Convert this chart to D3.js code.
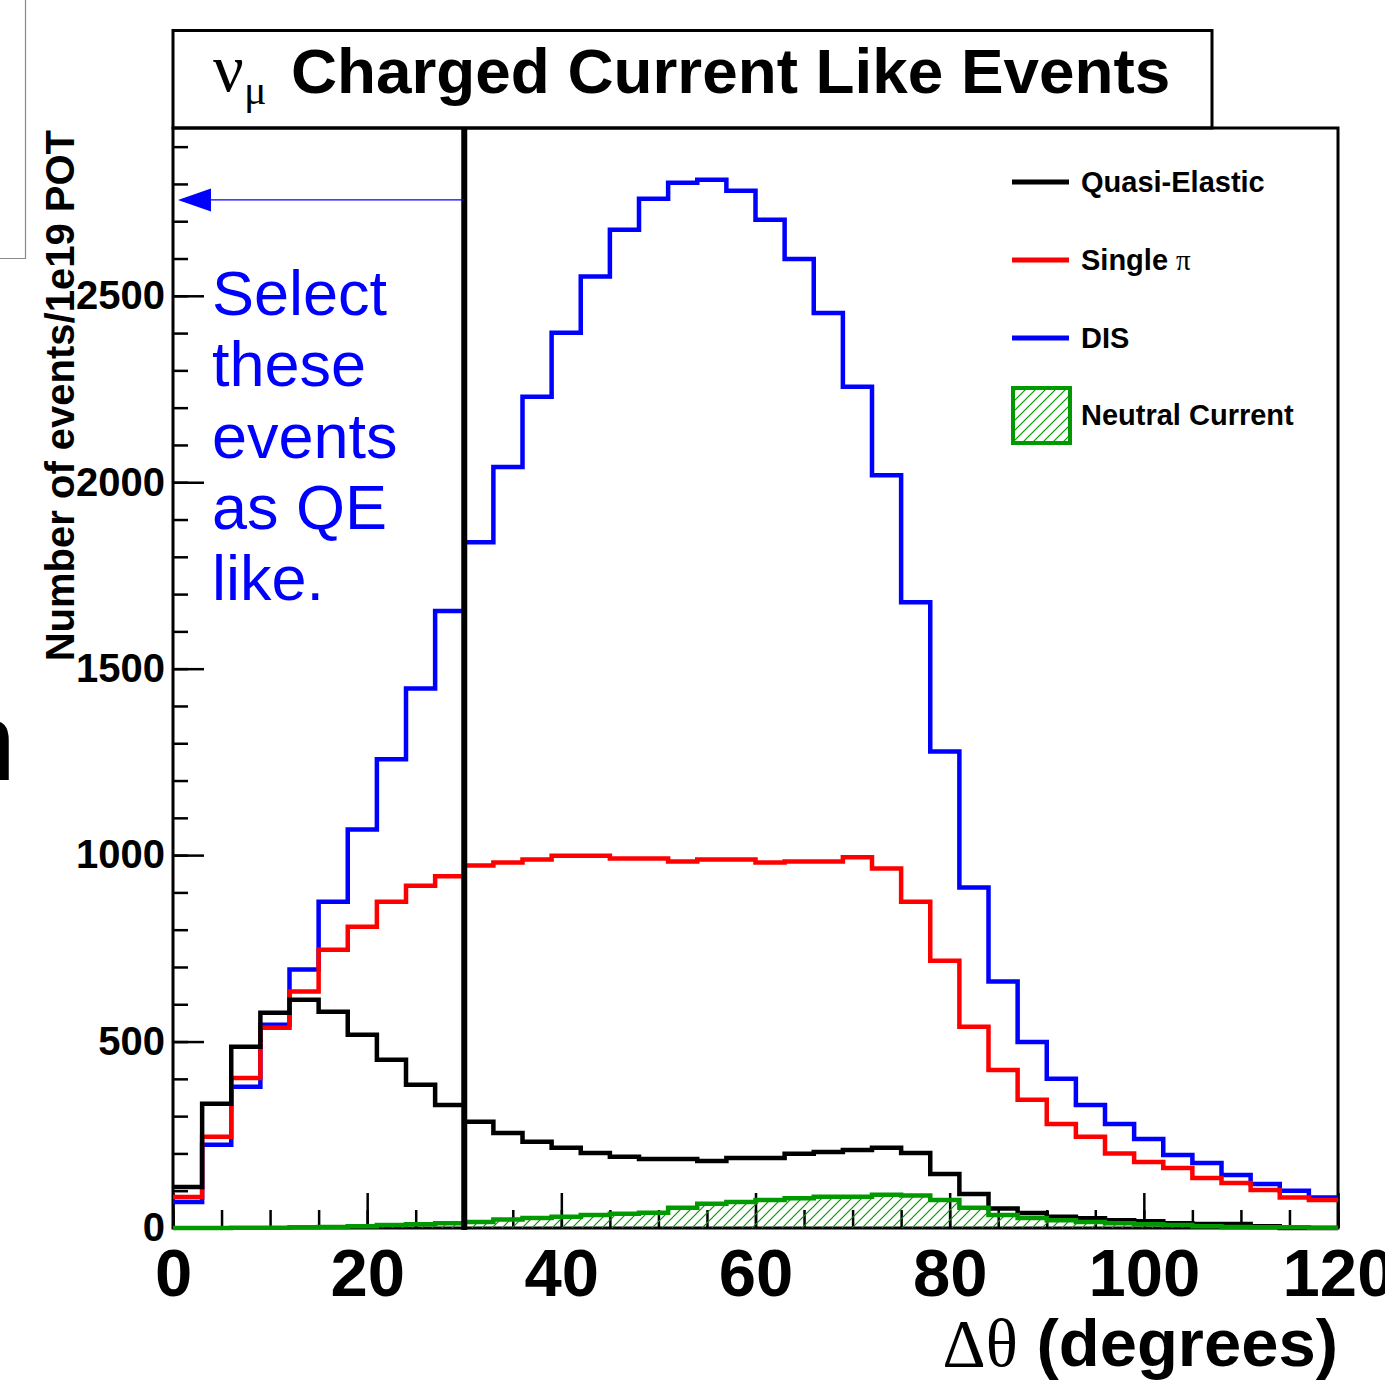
<!DOCTYPE html>
<html>
<head>
<meta charset="utf-8">
<script src="https://cdn.jsdelivr.net/npm/d3@7"></script>
<style>
  body { margin: 0; background: #fff; }
  svg { display: block; }
</style>
</head>
<body>
<svg id="chart" width="1385" height="1388"></svg>
<script>
// bin low edges (degrees), 3 degree bins
const binLow = [0, 3, 6, 9, 12, 15, 18, 21, 24, 27, 30, 33, 36, 39, 42, 45, 48, 51, 54, 57,
                60, 63, 66, 69, 72, 75, 78, 81, 84, 87, 90, 93, 96, 99, 102, 105, 108, 111, 114, 117]

const quasiElastic = [110, 333, 486, 577, 612, 580, 518, 451, 384, 330, 285, 255, 231, 215, 201, 191, 185, 185, 180, 188,
                      188, 199, 204, 209, 215, 201, 145, 91, 52, 40, 30, 26, 21, 18, 13, 11, 11, 5, 0, 0]
const singlePi = [83, 245, 402, 537, 634, 746, 808, 875, 918, 943, 972, 980, 988, 998, 998, 991, 991, 983, 988, 988,
                  980, 983, 983, 994, 964, 875, 717, 540, 424, 344, 279, 245, 200, 177, 161, 134, 121, 102, 82, 75]
const dis = [70, 223, 379, 545, 693, 875, 1069, 1257, 1447, 1655, 1839, 2041, 2229, 2401, 2552, 2677, 2760, 2803, 2811, 2782,
             2704, 2599, 2454, 2256, 2019, 1678, 1278, 913, 661, 499, 400, 330, 279, 239, 196, 174, 142, 118, 100, 82]
const neutralCurrent = [0, 0, 1, 1, 2, 3, 5, 8, 10, 13, 16, 23, 27, 30, 35, 38, 41, 54, 65, 70,
                        75, 80, 84, 84, 89, 87, 75, 54, 35, 27, 21, 16, 13, 10, 8, 5, 3, 2, 2, 1]

const xMajorTicks = [0, 20, 40, 60, 80, 100, 120]
const yMajorTicks = [0, 500, 1000, 1500, 2000, 2500]
const cutAngle = 30
const arrowLevel = 2757
const noteLines = ['Select', 'these', 'events', 'as QE', 'like.']

const legendItems = [
  { label: 'Quasi-Elastic', color: '#000000' },
  { label: 'Single ', greek: 'π', color: '#ff0000' },
  { label: 'DIS', color: '#0000ff' },
  { label: 'Neutral Current', color: '#009a00', hatched: true }
]

const sans = '"Liberation Sans", Arial, Helvetica, sans-serif'
const serif = '"Liberation Serif", "Times New Roman", serif'
const green = '#009a00'

const svg = d3.select('#chart')

const x = d3.scaleLinear().domain([0, 120]).range([173, 1338])
const y = d3.scaleLinear().domain([0, 2950]).range([1228, 128])

// hatch pattern for neutral current
const defs = svg.append('defs')
const pat = defs.append('pattern')
  .attr('id', 'hatch')
  .attr('patternUnits', 'userSpaceOnUse')
  .attr('width', 10).attr('height', 10)
pat.append('path')
  .attr('d', 'M-2,12 L12,-2 M-2,2 L2,-2 M8,12 L12,8')
  .attr('fill', 'none')
  .attr('stroke', green).attr('stroke-width', 1.2)

// stray slide bits
svg.append('path')
  .attr('d', 'M0,258.5 H25.5 V0')
  .attr('fill', 'none').attr('stroke', '#8a8a8a').attr('stroke-width', 1.2)
svg.append('text')
  .attr('x', 16).attr('y', 780)
  .attr('text-anchor', 'end')
  .style('font-family', sans).style('font-size', '112px')
  .text('n')

// title box
svg.append('rect')
  .attr('x', 173).attr('y', 30.5).attr('width', 1039).attr('height', 97.5)
  .attr('fill', '#fff').attr('stroke', '#000').attr('stroke-width', 3)
svg.append('text')
  .attr('x', 213).attr('y', 91)
  .style('font-family', serif).style('font-size', '68px')
  .text('ν')
svg.append('text')
  .attr('x', 244).attr('y', 104)
  .style('font-family', serif).style('font-size', '42px')
  .text('μ')
svg.append('text')
  .attr('x', 291).attr('y', 93)
  .style('font-family', sans).style('font-size', '63.8px').style('font-weight', 'bold')
  .text('Charged Current Like Events')

// axes, ticks pointing into the frame
const yAxis = svg.append('g')
  .attr('transform', 'translate(173,0)')
  .call(d3.axisLeft(y).tickValues(yMajorTicks).tickFormat(d3.format('d')).tickSize(-31).tickPadding(8))
yAxis.append('g')
  .call(d3.axisLeft(y).tickValues(d3.range(0, 2950, 100)).tickSize(-15).tickFormat(''))

const xAxis = svg.append('g')
  .attr('transform', 'translate(0,1228)')
  .call(d3.axisBottom(x).tickValues(xMajorTicks).tickFormat(d3.format('d')).tickSize(-35).tickPadding(20))
xAxis.append('g')
  .call(d3.axisBottom(x).tickValues(d3.range(0, 121, 5)).tickSize(-18).tickFormat(''))

svg.selectAll('.domain').remove()
svg.selectAll('.tick line').attr('stroke', '#000').attr('stroke-width', 2.5)
yAxis.selectAll('text')
  .style('font-family', sans).style('font-size', '40px').style('font-weight', 'bold')
  .attr('fill', '#000')
xAxis.selectAll('text')
  .style('font-family', sans).style('font-size', '67px').style('font-weight', 'bold')
  .attr('fill', '#000')

// frame
svg.append('rect')
  .attr('x', 173).attr('y', 128).attr('width', 1165).attr('height', 1100)
  .attr('fill', 'none').attr('stroke', '#000').attr('stroke-width', 3)

// histograms
const steps = vals => binLow.map((b, i) => [b, vals[i]]).concat([[120, vals[vals.length - 1]]])

const line = d3.line()
  .x(d => x(d[0])).y(d => y(d[1]))
  .curve(d3.curveStepAfter)

const area = d3.area()
  .x(d => x(d[0])).y0(y(0)).y1(d => y(d[1]))
  .curve(d3.curveStepAfter)

const plot = svg.append('g')

plot.append('path')
  .datum(steps(neutralCurrent))
  .attr('d', area)
  .attr('fill', 'url(#hatch)')

const series = [
  { vals: dis, color: '#0000ff' },
  { vals: singlePi, color: '#ff0000' },
  { vals: quasiElastic, color: '#000000' },
  { vals: neutralCurrent, color: green }
]

plot.selectAll('.hist')
  .data(series)
  .enter().append('path')
  .attr('class', 'hist')
  .attr('d', d => line(steps(d.vals)))
  .attr('fill', 'none')
  .attr('stroke', d => d.color)
  .attr('stroke-width', 4.5)

// axis titles
svg.append('text')
  .attr('transform', 'translate(74,130) rotate(-90)')
  .attr('text-anchor', 'end')
  .style('font-family', sans).style('font-size', '40px').style('font-weight', 'bold')
  .text('Number of events/1e19 POT')

const xTitle = svg.append('text')
  .attr('x', 1338).attr('y', 1366)
  .attr('text-anchor', 'end')
  .style('font-family', sans).style('font-size', '67px').style('font-weight', 'bold')
xTitle.append('tspan').style('font-family', serif).style('font-weight', 'normal').text('Δθ')
xTitle.append('tspan').text(' (degrees)')

// cut line
svg.append('line')
  .attr('x1', x(cutAngle)).attr('x2', x(cutAngle))
  .attr('y1', y(2950)).attr('y2', y(0) + 2)
  .attr('stroke', '#000').attr('stroke-width', 6)

// arrow
svg.append('line')
  .attr('x1', x(cutAngle)).attr('x2', x(0) + 30)
  .attr('y1', y(arrowLevel)).attr('y2', y(arrowLevel))
  .attr('stroke', '#0000ff').attr('stroke-width', 1.2)
const ay = y(arrowLevel)
svg.append('path')
  .attr('d', `M${x(0) + 5},${ay} L${x(0) + 38},${ay - 11.5} L${x(0) + 38},${ay + 11.5} Z`)
  .attr('fill', '#0000ff')

// annotation
svg.append('g').selectAll('text')
  .data(noteLines)
  .enter().append('text')
  .attr('x', 212)
  .attr('y', (d, i) => 315 + i * 71.3)
  .attr('fill', '#0000ff')
  .style('font-family', sans).style('font-size', '63px')
  .text(d => d)

// legend
const rowY = [182, 260, 338, 415]
const legend = svg.append('g')
legendItems.forEach((item, i) => {
  const g = legend.append('g').attr('transform', `translate(0,${rowY[i]})`)
  if (item.hatched) {
    g.append('rect')
      .attr('x', 1013).attr('y', -27).attr('width', 57).attr('height', 55)
      .attr('fill', 'url(#hatch)').attr('stroke', item.color).attr('stroke-width', 4)
  } else {
    g.append('line')
      .attr('x1', 1012).attr('x2', 1069)
      .attr('stroke', item.color).attr('stroke-width', 5)
  }
  const t = g.append('text')
    .attr('x', 1081).attr('y', 10)
    .style('font-family', sans).style('font-size', '29px').style('font-weight', 'bold')
    .text(item.label)
  if (item.greek) {
    t.append('tspan').style('font-family', serif).style('font-weight', 'normal').text(item.greek)
  }
})
</script>
</body>
</html>
